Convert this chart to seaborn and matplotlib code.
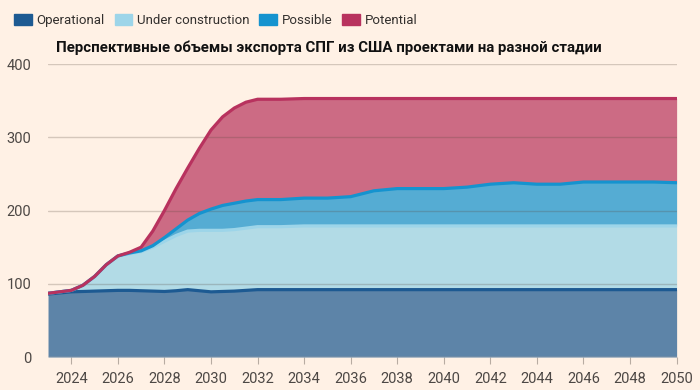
import matplotlib
matplotlib.use("Agg")
import matplotlib.pyplot as plt
import matplotlib.patches as mpatches
import seaborn as sns
import pandas as pd
import numpy as np

# Years on the x axis (half years where the curves ramp up)
years = [2023, 2024, 2024.5, 2025, 2025.5, 2026, 2026.5, 2027, 2027.5, 2028,
         2028.5, 2029, 2029.5, 2030, 2030.5, 2031, 2031.5, 2032, 2033, 2034,
         2035, 2036, 2037, 2038, 2039, 2040, 2041, 2042, 2043, 2044, 2045,
         2046, 2047, 2048, 2049, 2050]

# Cumulative (stacked) tops for each stage
operational = [86, 89, 89.5, 90, 90.5, 91, 91, 90.5, 90, 89.5,
               90.5, 92, 90.5, 89, 89.5, 90, 91, 92, 92, 92,
               92, 92, 92, 92, 92, 92, 92, 92, 92, 92, 92,
               92, 92, 92, 92, 92]
under_construction = [87, 91, 98, 110, 126, 138, 141, 144, 150, 158,
                      166, 172, 173, 173, 173, 174, 176, 178, 178, 179,
                      179, 179, 179, 179, 179, 179, 179, 179, 179, 179, 179,
                      179, 179, 179, 179, 179]
possible = [87, 91, 98, 110, 126, 138, 142, 145, 152, 163,
            175, 187, 196, 202, 207, 210, 213, 215, 215, 217,
            217, 219, 227, 230, 230, 230, 232, 236, 238, 236, 236,
            239, 239, 239, 239, 238]
potential = [87, 91, 98, 110, 126, 138, 143, 150, 172, 200,
             230, 258, 285, 310, 328, 340, 348, 352, 352, 353,
             353, 353, 353, 353, 353, 353, 353, 353, 353, 353, 353,
             353, 353, 353, 353, 353]

series_names = ["Operational", "Under construction", "Possible", "Potential"]
fill_colors = ["#5d84a8", "#b2dbe6", "#55acd3", "#cc6b84"]
line_colors = ["#1d5a92", "#9dd5e9", "#1593cf", "#b8325e"]

df = pd.DataFrame({"year": years, "Operational": operational,
                   "Under construction": under_construction,
                   "Possible": possible, "Potential": potential})

bg = "#fff1e5"
sns.set_theme(style="white")
plt.rcParams["font.family"] = ["Roboto", "DejaVu Sans"]

fig = plt.figure(figsize=(7, 3.9), dpi=100, facecolor=bg)
ax = fig.add_axes([0.0686, 0.0846, 0.898, 0.751])
ax.set_facecolor(bg)

# Stacked bands
lower = [np.zeros(len(years))] + [df[n].values for n in series_names[:-1]]
for name, lo, fc in zip(series_names, lower, fill_colors):
    ax.fill_between(df["year"], lo, df[name], color=fc, lw=0, zorder=1)

# Outline of each band, potential drawn last
for name, lc in zip(series_names, line_colors):
    sns.lineplot(data=df, x="year", y=name, ax=ax, color=lc, lw=2.3,
                 zorder=3, legend=False)

ax.set_xlim(2023, 2050)
ax.set_ylim(0, 400)
ax.set_yticks([0, 100, 200, 300, 400])
ax.set_xticks(list(range(2024, 2051, 2)))
for y in [100, 200, 300, 400]:
    ax.axhline(y, color="#5a4a40", alpha=0.25, lw=1, zorder=2)
ax.axhline(0, color="#b8aca2", lw=1, zorder=4)

for s in ax.spines.values():
    s.set_visible(False)
ax.tick_params(axis="y", length=0, labelsize=10.5, labelcolor="#4d4845", pad=12)
ax.tick_params(axis="x", length=5, width=0.8, color="#b8aca2", labelsize=10.5,
               labelcolor="#4d4845", pad=6, bottom=True)
ax.set_xlabel("")
ax.set_ylabel("")

# Legend at the top left
handles = [mpatches.Patch(color=c, label=n) for n, c in zip(series_names, line_colors)]
fig.legend(handles=handles, loc="upper left", bbox_to_anchor=(0.003, 0.995), ncol=4,
           frameon=False, fontsize=9.5, handlelength=1.35, handleheight=0.85,
           handletextpad=0.35, columnspacing=0.75, labelcolor="#33302e")

fig.text(56 / 700, 1 - 48 / 390, "Перспективные объемы экспорта СПГ из США проектами на разной стадии",
         fontsize=10.8, fontweight="bold", color="#111111", va="center", ha="left")

fig.savefig("out.png", dpi=100, facecolor=bg)
